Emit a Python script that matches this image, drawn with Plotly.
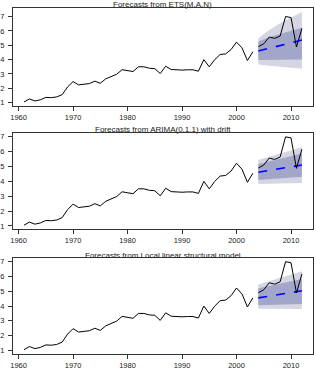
import plotly.graph_objects as go

W, H = 316, 370

hist_years = list(range(1961, 2004))
hist_vals = [1.05, 1.26, 1.12, 1.20, 1.37, 1.35, 1.40, 1.56, 2.10, 2.47,
             2.24, 2.27, 2.33, 2.50, 2.35, 2.66, 2.80, 2.98, 3.30, 3.25,
             3.17, 3.50, 3.50, 3.40, 3.37, 3.03, 3.54, 3.31, 3.27, 3.27,
             3.29, 3.29, 3.19, 4.00, 3.50, 4.00, 4.36, 4.40, 4.70, 5.22,
             4.82, 3.94, 4.55]

test_years = list(range(2004, 2013))
test_vals = [4.90, 5.10, 5.57, 5.48, 5.64, 7.00, 6.93, 4.88, 6.17]

titles = ["Forecasts from ETS(M.A.N)",
          "Forecasts from ARIMA(0,1,1) with drift",
          "Forecasts from Local linear structural model"]

ets_fc = [4.60, 4.70, 4.79, 4.89, 4.98, 5.07, 5.17, 5.26, 5.36]
ets_lo80 = [3.98, 4.00, 4.00, 4.01, 4.01, 4.01, 4.01, 4.00, 4.00]
ets_hi80 = [5.26, 5.42, 5.56, 5.68, 5.79, 5.90, 6.01, 6.12, 6.22]
ets_lo95 = [3.66, 3.60, 3.56, 3.52, 3.48, 3.45, 3.42, 3.39, 3.36]
ets_hi95 = [5.46, 5.80, 6.06, 6.31, 6.53, 6.74, 6.94, 7.12, 7.31]

arima_fc = [4.62, 4.68, 4.74, 4.80, 4.86, 4.92, 4.98, 5.04, 5.10]
arima_lo80 = [4.09, 4.10, 4.13, 4.16, 4.19, 4.22, 4.25, 4.29, 4.32]
arima_hi80 = [5.17, 5.26, 5.35, 5.44, 5.53, 5.62, 5.71, 5.80, 5.88]
arima_lo95 = [3.82, 3.82, 3.83, 3.85, 3.86, 3.87, 3.88, 3.89, 3.90]
arima_hi95 = [5.44, 5.56, 5.68, 5.78, 5.88, 5.98, 6.08, 6.19, 6.30]

llsm_fc = [4.55, 4.61, 4.67, 4.73, 4.79, 4.85, 4.91, 4.97, 5.03]
llsm_lo80 = [4.05, 4.06, 4.07, 4.08, 4.09, 4.10, 4.11, 4.12, 4.13]
llsm_hi80 = [5.20, 5.28, 5.36, 5.44, 5.51, 5.58, 5.66, 5.74, 5.82]
llsm_lo95 = [3.82, 3.82, 3.81, 3.81, 3.81, 3.80, 3.80, 3.80, 3.80]
llsm_hi95 = [5.45, 5.56, 5.67, 5.78, 5.89, 6.00, 6.10, 6.22, 6.35]

x_ticks = [1960, 1970, 1980, 1990, 2000, 2010]
y_ticks = [1, 2, 3, 4, 5, 6, 7]

panels = [
    (ets_fc, ets_lo80, ets_hi80, ets_lo95, ets_hi95),
    (arima_fc, arima_lo80, arima_hi80, arima_lo95, arima_hi95),
    (llsm_fc, llsm_lo80, llsm_hi80, llsm_lo95, llsm_hi95),
]

# pixel layout (top-based)
box_x = (10, 313)
box_y = [(8.3, 106.7), (134.3, 231.7), (260.5, 357.5)]
title_y = [5, 131, 258]
y_ranges = [[0.80, 7.58], [0.78, 7.27], [0.78, 7.27]]
x_range = [1958.96, 2014.04]

LIGHT = "#D6D6E2"
DARK = "#A2A6C8"
FONT = "Liberation Sans, Arial, sans-serif"

fig = go.Figure()
layout = dict(width=W, height=H, margin=dict(l=0, r=0, t=0, b=0),
              paper_bgcolor="white", plot_bgcolor="white", showlegend=False,
              font=dict(family=FONT, size=7.5, color="#222"))
annotations = []

for i, (fc, lo80, hi80, lo95, hi95) in enumerate(panels):
    n = "" if i == 0 else str(i + 1)
    xa, ya = "x" + n, "y" + n
    fig.add_trace(go.Scatter(x=test_years + test_years[::-1], y=hi95 + lo95[::-1],
                             fill="toself", fillcolor=LIGHT, line=dict(width=0),
                             mode="lines", hoverinfo="skip", xaxis=xa, yaxis=ya))
    fig.add_trace(go.Scatter(x=test_years + test_years[::-1], y=hi80 + lo80[::-1],
                             fill="toself", fillcolor=DARK, line=dict(width=0),
                             mode="lines", hoverinfo="skip", xaxis=xa, yaxis=ya))
    fig.add_trace(go.Scatter(x=hist_years, y=hist_vals, mode="lines",
                             line=dict(color="black", width=1), xaxis=xa, yaxis=ya))
    fig.add_trace(go.Scatter(x=test_years, y=fc, mode="lines",
                             line=dict(color="#0000FF", width=1.6, dash="dash"),
                             xaxis=xa, yaxis=ya))
    fig.add_trace(go.Scatter(x=test_years, y=test_vals, mode="lines",
                             line=dict(color="black", width=1), xaxis=xa, yaxis=ya))

    top, bot = box_y[i]
    axcommon = dict(showline=True, mirror=True, linecolor="#333", linewidth=1,
                    showgrid=False, zeroline=False, ticks="outside", ticklen=4,
                    tickcolor="#333", tickwidth=1, tickfont=dict(size=7.5, color="#222"))
    layout["xaxis" + n] = dict(domain=[box_x[0] / W, box_x[1] / W], range=x_range,
                               tickvals=x_ticks, anchor=ya, **axcommon)
    layout["yaxis" + n] = dict(domain=[1 - bot / H, 1 - top / H], range=y_ranges[i],
                               tickvals=y_ticks, anchor=xa, ticklabelstandoff=2,
                               **axcommon)
    annotations.append(dict(text=titles[i], x=161.5 / W, y=1 - title_y[i] / H,
                            xref="paper", yref="paper", xanchor="center",
                            yanchor="middle", showarrow=False,
                            font=dict(size=8, color="#222", family=FONT)))

layout["annotations"] = annotations
fig.update_layout(**layout)
fig.write_html("out.html")
